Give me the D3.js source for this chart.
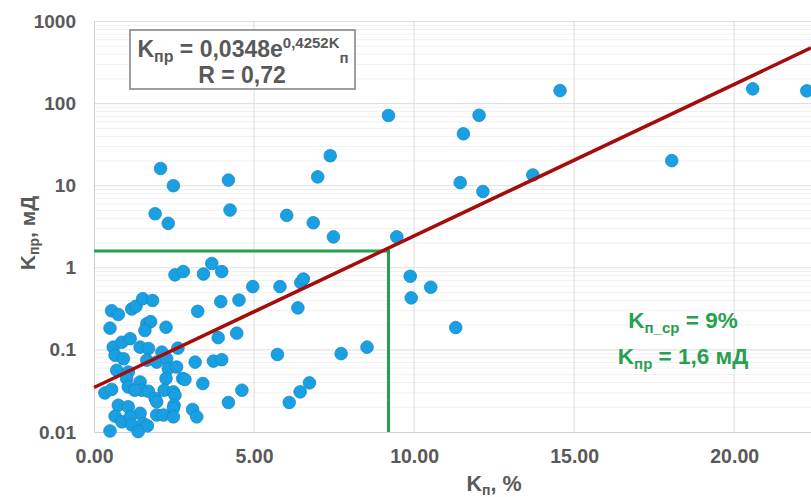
<!DOCTYPE html>
<html>
<head>
<meta charset="utf-8">
<script src="https://cdn.jsdelivr.net/npm/d3@7"></script>
<style>
  body { margin: 0; background: #fff; }
  svg { display: block; font-family: "Liberation Sans", Arial, sans-serif; }
</style>
</head>
<body>
<svg id="canvas" width="811" height="497"></svg>
<script>
// porosity, % (x) and permeability, mD (y)
let kp = [2.08, 2.48, 1.91, 2.32, 4.20, 4.25, 6.02, 6.85, 6.99, 7.38, 7.48, 9.20, 9.46,
  14.56, 12.03, 11.54, 11.44, 12.15, 13.71, 18.05, 20.58, 22.27,
  9.88, 10.52, 9.91, 11.30, 7.72, 8.53,
  2.53, 2.79, 3.42, 3.68, 3.99, 4.96, 5.81, 6.46, 6.54, 6.37,
  0.55, 0.76, 1.18, 1.31, 1.52, 1.83, 0.50, 1.65, 1.77, 1.59, 2.25, 3.24, 3.96, 4.53, 3.88, 4.46,
  0.60, 0.87, 1.13, 1.44, 1.70, 2.12, 2.62, 0.66, 0.92, 1.65, 1.96, 2.27, 3.16, 3.73, 3.99, 5.73,
  0.71, 1.07, 2.32, 2.58, 1.02, 2.25, 2.77, 2.84,
  0.34, 0.55, 1.07, 1.44, 1.49, 1.70, 2.19, 2.48, 2.53, 3.40, 4.62, 6.44, 6.73, 1.27,
  1.91, 1.96, 0.76, 1.07, 1.44, 2.50, 2.48, 3.08, 3.21, 4.20, 6.10,
  0.66, 0.87, 1.13, 1.18, 1.54, 1.96, 2.17, 2.48, 1.67, 0.50, 1.38];
let kpr = [16.2, 10.0, 4.55, 3.48, 11.7, 5.05, 4.35, 3.54, 12.8, 23.2, 2.38, 71.6, 2.38,
  144, 72.1, 42.9, 10.9, 8.5, 13.5, 20.2, 151, 143,
  0.79, 0.58, 0.43, 0.187, 0.090, 0.108,
  0.82, 0.90, 0.84, 1.13, 0.90, 0.59, 0.59, 0.66, 0.73, 0.325,
  0.30, 0.27, 0.315, 0.34, 0.42, 0.40, 0.184, 0.208, 0.221, 0.172, 0.189, 0.295, 0.387, 0.405, 0.141, 0.160,
  0.108, 0.124, 0.137, 0.108, 0.104, 0.094, 0.105, 0.086, 0.078, 0.075, 0.071, 0.078, 0.071, 0.073, 0.076, 0.088,
  0.0565, 0.0538, 0.0592, 0.0619, 0.0448, 0.0448, 0.0448, 0.0436,
  0.0299, 0.033, 0.0354, 0.0407, 0.0323, 0.0314, 0.0323, 0.0308, 0.0281, 0.0389, 0.0323, 0.0308, 0.0397, 0.0323,
  0.0256, 0.0233, 0.0212, 0.0203, 0.0169, 0.0212, 0.0194, 0.0188, 0.0153, 0.0229, 0.0229,
  0.0156, 0.0133, 0.0153, 0.0122, 0.0127, 0.0161, 0.0161, 0.0153, 0.0119, 0.0103, 0.0101];

// trend Kpr = a * exp(b * Kp)
let trendA = 0.0348;
let trendB = 0.4252;
// cut-off values
let cutKp = 9.2;
let cutKpr = 1.6;

let xTicks = [0, 5, 10, 15, 20];
let yTicks = [0.01, 0.1, 1, 10, 100, 1000];

let canvas = d3.select('#canvas');
let grey = '#595959';
let green = '#27a04f';
let font = '"Liberation Sans", Arial, sans-serif';

let x = d3.scaleLinear().domain([0, 22.4]).range([94, 811]);
let y = d3.scaleLog().domain([0.01, 1000]).range([432, 21.5]);

//minor log gridlines
let minor = [];
yTicks.slice(0, -1).forEach((d) => {
  for (let k = 2; k < 10; k++) minor.push(d * k);
});
canvas.append('g').selectAll('line').data(minor).enter().append('line')
  .attr('x1', x(0)).attr('x2', 811)
  .attr('y1', (d) => y(d)).attr('y2', (d) => y(d))
  .attr('stroke', '#f0f0f0').attr('stroke-width', 1);

//major gridlines
canvas.append('g').selectAll('line').data(yTicks.slice(1)).enter().append('line')
  .attr('x1', x(0)).attr('x2', 811)
  .attr('y1', (d) => y(d)).attr('y2', (d) => y(d))
  .attr('stroke', '#dddddd').attr('stroke-width', 1);
canvas.append('g').selectAll('line').data(xTicks.slice(1)).enter().append('line')
  .attr('x1', (d) => x(d)).attr('x2', (d) => x(d))
  .attr('y1', y(0.01)).attr('y2', y(1000))
  .attr('stroke', '#dddddd').attr('stroke-width', 1);

//axes
let xAxis = d3.axisBottom(x).tickValues(xTicks).tickSize(0).tickPadding(17)
  .tickFormat(d3.format('.2f'));
let gx = canvas.append('g').attr('transform', 'translate(0,' + y(0.01) + ')').call(xAxis);
gx.select('.domain').attr('stroke', '#d0d0d0');
gx.selectAll('text').attr('fill', grey).attr('font-size', 19.5).attr('font-weight', 'bold')
  .attr('font-family', font);

let yAxis = d3.axisLeft(y).tickValues(yTicks).tickSize(0).tickPadding(18)
  .tickFormat((d) => d >= 1 ? d3.format('d')(d) : String(d));
let gy = canvas.append('g').attr('transform', 'translate(' + x(0) + ',0)').call(yAxis);
gy.select('.domain').attr('stroke', '#d0d0d0');
gy.selectAll('text').attr('fill', grey).attr('font-size', 19).attr('font-weight', 'bold')
  .attr('font-family', font);

//axis titles
let xt = canvas.append('text').attr('x', 494).attr('y', 491).attr('text-anchor', 'middle')
  .attr('fill', grey).attr('font-size', 21.5).attr('font-weight', 'bold');
xt.append('tspan').text('K');
xt.append('tspan').attr('font-size', 14).attr('dy', 4).text('п');
xt.append('tspan').attr('dy', -4).text(', %');

let yt = canvas.append('text').attr('transform', 'translate(35,233) rotate(-90)')
  .attr('text-anchor', 'middle').attr('fill', grey).attr('font-size', 21).attr('font-weight', 'bold');
yt.append('tspan').text('K');
yt.append('tspan').attr('font-size', 14).attr('dy', 4).text('пр');
yt.append('tspan').attr('dy', -4).text(', мД');

//cut-off lines
canvas.append('path')
  .attr('d', d3.line()([[x(0), y(cutKpr)], [x(cutKp), y(cutKpr)], [x(cutKp), y(0.01)]]))
  .attr('fill', 'none').attr('stroke', '#22a04b').attr('stroke-width', 3);

//points
canvas.append('g').selectAll('circle').data(kp).enter().append('circle')
  .attr('cx', (d) => x(d))
  .attr('cy', (d, i) => y(kpr[i]))
  .attr('r', 6.3)
  .attr('fill', '#19a0e3')
  .attr('stroke', '#1689c6')
  .attr('stroke-width', 0.8);

//trend line
let trendX = [0, 22.4];
canvas.append('path')
  .attr('d', d3.line().x((d) => x(d)).y((d) => y(trendA * Math.exp(trendB * d)))(trendX))
  .attr('fill', 'none').attr('stroke', '#a50d0d').attr('stroke-width', 3.5);

//equation box
canvas.append('rect').attr('x', 130).attr('y', 30).attr('width', 225).attr('height', 59)
  .attr('fill', '#fff').attr('stroke', '#7f7f7f').attr('stroke-width', 1.5);
let eq = canvas.append('text').attr('x', 243).attr('y', 57).attr('text-anchor', 'middle')
  .attr('fill', grey).attr('font-size', 23).attr('font-weight', 'bold');
eq.append('tspan').text('K');
eq.append('tspan').attr('font-size', 16).attr('dy', 5).text('пр');
eq.append('tspan').attr('dy', -5).text(' = 0,0348e');
eq.append('tspan').attr('font-size', 15).attr('dy', -9).text('0,4252K');
eq.append('tspan').attr('font-size', 15).attr('dy', 15).text('п');
canvas.append('text').attr('x', 242).attr('y', 83).attr('text-anchor', 'middle')
  .attr('fill', grey).attr('font-size', 23).attr('font-weight', 'bold').text('R = 0,72');

//cut-off labels
let t1 = canvas.append('text').attr('x', 683).attr('y', 328).attr('text-anchor', 'middle')
  .attr('fill', green).attr('font-size', 22.5).attr('font-weight', 'bold');
t1.append('tspan').text('K');
t1.append('tspan').attr('font-size', 15).attr('dy', 5).text('п_ср');
t1.append('tspan').attr('dy', -5).text(' = 9%');
let t2 = canvas.append('text').attr('x', 683).attr('y', 364).attr('text-anchor', 'middle')
  .attr('fill', green).attr('font-size', 22.5).attr('font-weight', 'bold');
t2.append('tspan').text('K');
t2.append('tspan').attr('font-size', 15).attr('dy', 5).text('пр');
t2.append('tspan').attr('dy', -5).text(' = 1,6 мД');
</script>
</body>
</html>
